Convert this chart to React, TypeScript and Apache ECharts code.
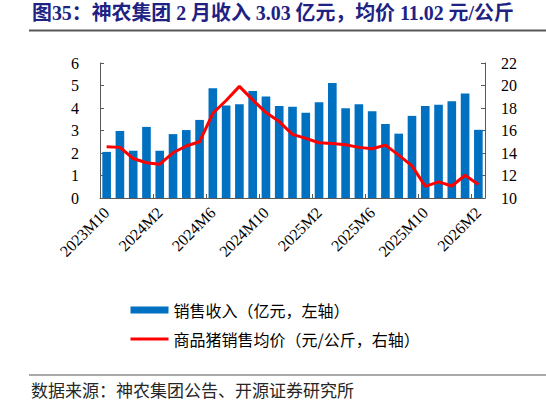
import React, { useEffect, useRef } from 'react';
import * as echarts from 'echarts';

const months = [
  '2023M10', '2023M11', '2023M12',
  '2024M1', '2024M2', '2024M3', '2024M4', '2024M5', '2024M6',
  '2024M7', '2024M8', '2024M9', '2024M10', '2024M11', '2024M12',
  '2025M1', '2025M2', '2025M3', '2025M4', '2025M5', '2025M6',
  '2025M7', '2025M8', '2025M9', '2025M10', '2025M11', '2025M12',
  '2026M1', '2026M2'
];

// 销售收入（亿元）
const revenue = [
  2.05, 2.98, 2.10, 3.16, 2.10, 2.84, 3.02, 3.47, 4.88, 4.11, 4.17, 4.76, 4.51, 4.09, 4.06,
  3.79, 4.26, 5.11, 3.99, 4.17, 3.86, 3.29, 2.86, 3.65, 4.09, 4.15, 4.30, 4.65, 3.03
];

// 商品猪销售均价（元/公斤）
const avgPrice = [
  14.56, 14.50, 13.51, 13.13, 13.01, 14.02, 14.62, 15.0, 17.53, 18.67, 19.92, 18.72, 17.59, 16.79, 15.66,
  15.3, 14.91, 14.85, 14.73, 14.50, 14.38, 14.70, 13.81, 12.86, 11.04, 11.43, 11.07, 12.02, 11.2
];

const seriesNames = ['销售收入（亿元，左轴）', '商品猪销售均价（元/公斤，右轴）'];

const titleText = '图35：神农集团 2 月收入 3.03 亿元，均价 11.02 元/公斤';
const sourceText = '数据来源：神农集团公告、开源证券研究所';

const serif = "'Liberation Serif', 'Times New Roman', 'Noto Sans CJK SC', serif";
const cjk = "'Noto Sans CJK SC', 'Liberation Serif', sans-serif";

const App: React.FC = () => {
  const chartRef = useRef<HTMLDivElement>(null);

  useEffect(() => {
    if (!chartRef.current) return;
    const chart = echarts.init(chartRef.current, undefined, { renderer: 'svg' });

    const axisLine = { show: true, lineStyle: { color: '#595959', width: 1 } };

    chart.setOption({
      animation: false,
      backgroundColor: '#ffffff',
      grid: { left: 100, right: 61, top: 63, bottom: 207, containLabel: false },
      graphic: [
        {
          type: 'text',
          left: 32,
          top: 3,
          style: {
            text: titleText,
            font: `bold 19.9px ${serif}`,
            fill: '#1E2283'
          }
        },
        {
          type: 'line',
          shape: { x1: 29, y1: 30.5, x2: 546, y2: 30.5 },
          style: { stroke: '#595959', lineWidth: 2 }
        },
        {
          type: 'line',
          shape: { x1: 29, y1: 375, x2: 546, y2: 375 },
          style: { stroke: '#8c8c8c', lineWidth: 1.5 }
        },
        {
          type: 'text',
          left: 31,
          top: 381,
          style: {
            text: sourceText,
            font: `17px ${cjk}`,
            fill: '#262626'
          }
        }
      ],
      legend: {
        orient: 'vertical',
        left: 124,
        top: 297,
        itemWidth: 38,
        itemHeight: 7,
        itemGap: 13,
        textStyle: { fontSize: 16, fontFamily: cjk, color: '#000' },
        data: [
          { name: seriesNames[0], icon: 'rect' },
          { name: seriesNames[1], itemStyle: { opacity: 0 }, lineStyle: { color: '#FF0000', width: 3 } }
        ]
      },
      xAxis: {
        type: 'category',
        data: months,
        boundaryGap: true,
        axisLine,
        axisTick: { show: true, inside: true, interval: 3, length: 4, lineStyle: { color: '#595959' } },
        axisLabel: {
          interval: 3,
          rotate: 45,
          margin: 12,
          fontSize: 16,
          fontFamily: serif,
          color: '#000'
        },
        splitLine: { show: false }
      },
      yAxis: [
        {
          type: 'value',
          min: 0,
          max: 6,
          interval: 1,
          axisLine,
          axisTick: { show: true, inside: true, length: 4, lineStyle: { color: '#595959' } },
          axisLabel: { margin: 21, fontSize: 16, fontFamily: serif, color: '#000' },
          splitLine: { show: false }
        },
        {
          type: 'value',
          min: 10,
          max: 22,
          interval: 2,
          position: 'right',
          axisLine,
          axisTick: { show: true, inside: true, length: 4, lineStyle: { color: '#595959' } },
          axisLabel: { margin: 16, fontSize: 16, fontFamily: serif, color: '#000' },
          splitLine: { show: false }
        }
      ],
      series: [
        {
          name: seriesNames[0],
          type: 'bar',
          data: revenue,
          barWidth: '65%',
          itemStyle: { color: '#0070C0' }
        },
        {
          name: seriesNames[1],
          type: 'line',
          yAxisIndex: 1,
          data: avgPrice,
          symbol: 'none',
          lineStyle: { color: '#FF0000', width: 3 },
          itemStyle: { color: '#FF0000' }
        }
      ]
    });

    const handleResize = () => chart.resize();
    window.addEventListener('resize', handleResize);
    return () => {
      window.removeEventListener('resize', handleResize);
      chart.dispose();
    };
  }, []);

  return (
    <div
      ref={chartRef}
      style={{ position: 'fixed', left: 0, top: 0, width: 546, height: 405 }}
    />
  );
};

export default App;
